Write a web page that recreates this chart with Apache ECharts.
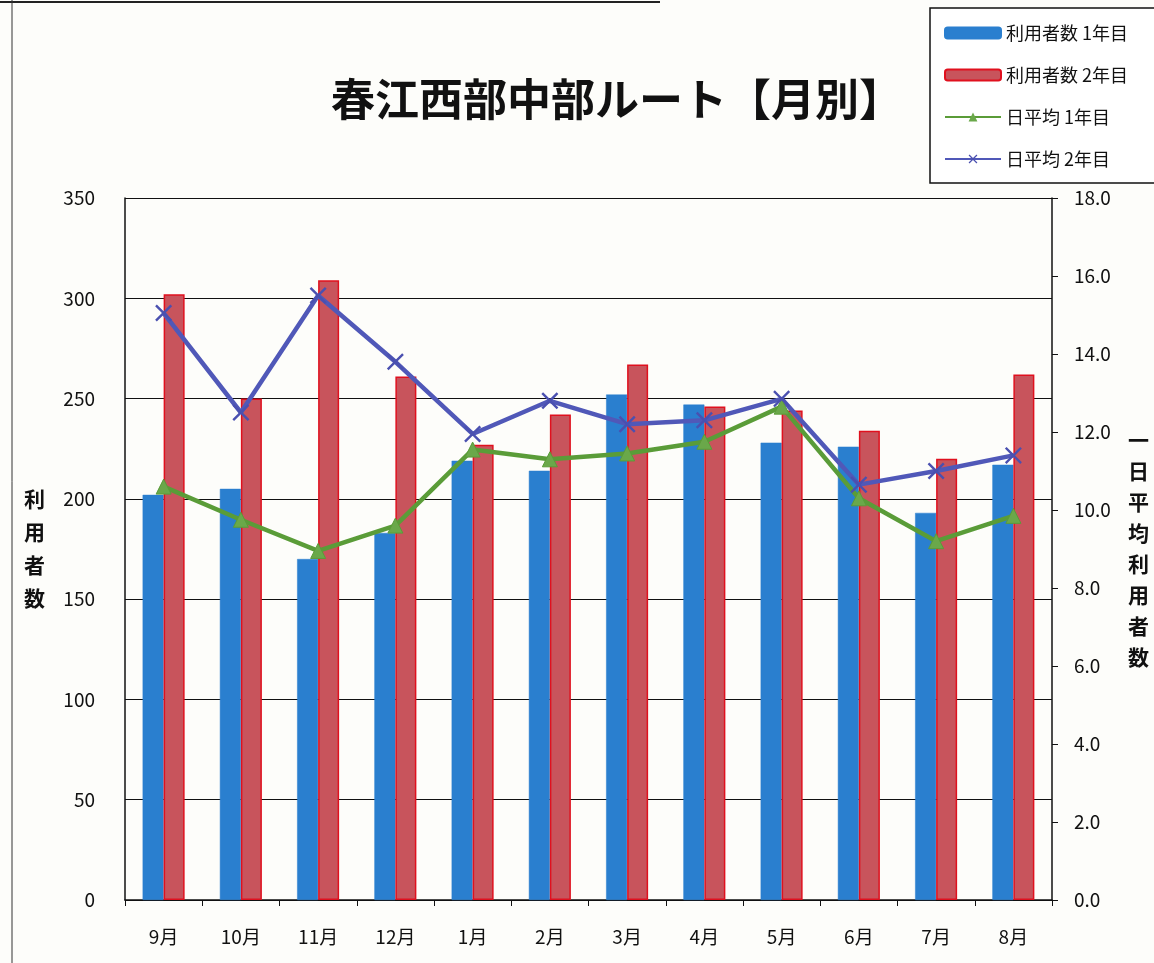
<!DOCTYPE html>
<html><head><meta charset="utf-8">
<script src="https://cdn.jsdelivr.net/npm/echarts@6/dist/echarts.min.js"></script>
<style>html,body{margin:0;padding:0;background:#fdfdfa}#c{width:1154px;height:963px}</style>
</head><body><div id="c"></div>
<script>
const categories = ['9月','10月','11月','12月','1月','2月','3月','4月','5月','6月','7月','8月'];
const users1 = [202, 205, 170, 183, 219, 214, 252, 247, 228, 226, 193, 217];
const users2 = [302, 250, 309, 261, 227, 242, 267, 246, 244, 234, 220, 262];
const daily1 = [10.6, 9.75, 8.95, 9.6, 11.55, 11.3, 11.45, 11.75, 12.65, 10.3, 9.2, 9.85];
const daily2 = [15.05, 12.5, 15.5, 13.8, 11.95, 12.8, 12.2, 12.3, 12.85, 10.65, 11.0, 11.4];
const leftTicks = {min: 0, max: 350, interval: 50};
const rightTicks = {min: 0, max: 18, interval: 2};

const FONT = '"Noto Sans CJK JP", "Noto Sans", sans-serif';
const cross = 'path://M0,1L1,0L5,4L9,0L10,1L6,5L10,9L9,10L5,6L1,10L0,9L4,5Z';
const chart = echarts.init(document.getElementById('c'));
chart.setOption({
  backgroundColor: '#fdfdfa',
  textStyle: {fontFamily: FONT},
  title: {
    text: '春江西部中部ルート【月別】',
    left: 612, top: 72, textAlign: 'center',
    textStyle: {fontSize: 44, fontWeight: 'bold', color: '#111', fontFamily: FONT}
  },
  legend: {
    orient: 'vertical', left: 930, top: 8,
    padding: [13, 30, 12, 14], itemGap: 18,
    itemWidth: 56, itemHeight: 11,
    borderColor: '#111', borderWidth: 1.5, backgroundColor: '#fff',
    textStyle: {fontSize: 18, color: '#111', fontFamily: FONT, lineHeight: 24},
    data: ['利用者数 1年目','利用者数 2年目','日平均 1年目','日平均 2年目']
  },
  grid: {left: 125, right: 102, top: 198, bottom: 63},
  xAxis: {
    type: 'category', data: categories,
    axisLine: {lineStyle: {color: '#111', width: 1.5}},
    axisTick: {show: true, length: 6, lineStyle: {color: '#111'}},
    axisLabel: {fontSize: 19, color: '#111', margin: 27, fontFamily: FONT}
  },
  yAxis: [{
    type: 'value', min: leftTicks.min, max: leftTicks.max, interval: leftTicks.interval,
    name: '利\n用\n者\n数', nameLocation: 'middle', nameGap: 80, nameRotate: 0,
    nameTextStyle: {fontSize: 21, fontWeight: 'bold', color: '#111', lineHeight: 33, fontFamily: FONT},
    axisLine: {show: true, lineStyle: {color: '#111', width: 1.5}},
    axisTick: {show: false},
    axisLabel: {fontSize: 19, color: '#111', margin: 30, fontFamily: FONT},
    splitLine: {show: true, lineStyle: {color: '#111', width: 1.2}}
  }, {
    type: 'value', min: rightTicks.min, max: rightTicks.max, interval: rightTicks.interval,
    name: '一\n日\n平\n均\n利\n用\n者\n数', nameLocation: 'middle', nameGap: 76, nameRotate: 0,
    nameTextStyle: {fontSize: 21, fontWeight: 'bold', color: '#111', lineHeight: 31, fontFamily: FONT},
    axisLine: {show: true, lineStyle: {color: '#111', width: 1.5}},
    axisTick: {show: true, inside: false, length: 6, lineStyle: {color: '#111'}},
    axisLabel: {fontSize: 19, color: '#111', margin: 22, fontFamily: FONT,
      formatter: v => v.toFixed(1)},
    splitLine: {show: false}
  }],
  series: [{
    name: '利用者数 1年目', type: 'bar', data: users1, yAxisIndex: 0,
    barWidth: 21, barGap: '0%',
    itemStyle: {color: '#2a7fcf', borderColor: '#2a7fcf', borderWidth: 0.5}
  }, {
    name: '利用者数 2年目', type: 'bar', data: users2, yAxisIndex: 0,
    barWidth: 21,
    itemStyle: {color: '#c8545c', borderColor: '#e0101e', borderWidth: 1.5}
  }, {
    name: '日平均 1年目', type: 'line', data: daily1, yAxisIndex: 1,
    symbol: 'triangle', symbolSize: 15,
    lineStyle: {color: '#5a9c38', width: 4.5},
    itemStyle: {color: '#6aa84a', borderColor: '#5a9c38'}
  }, {
    name: '日平均 2年目', type: 'line', data: daily2, yAxisIndex: 1,
    symbol: cross, symbolSize: 17,
    lineStyle: {color: '#5058b8', width: 4.5},
    itemStyle: {color: '#4a50b0'}
  }],
  graphic: [
    {type: 'line', shape: {x1: 0, y1: 2, x2: 660, y2: 2}, style: {stroke: '#222', lineWidth: 2}},
    {type: 'line', shape: {x1: 12, y1: 0, x2: 12, y2: 963}, style: {stroke: '#333', lineWidth: 1}}
  ]
});
</script></body></html>
